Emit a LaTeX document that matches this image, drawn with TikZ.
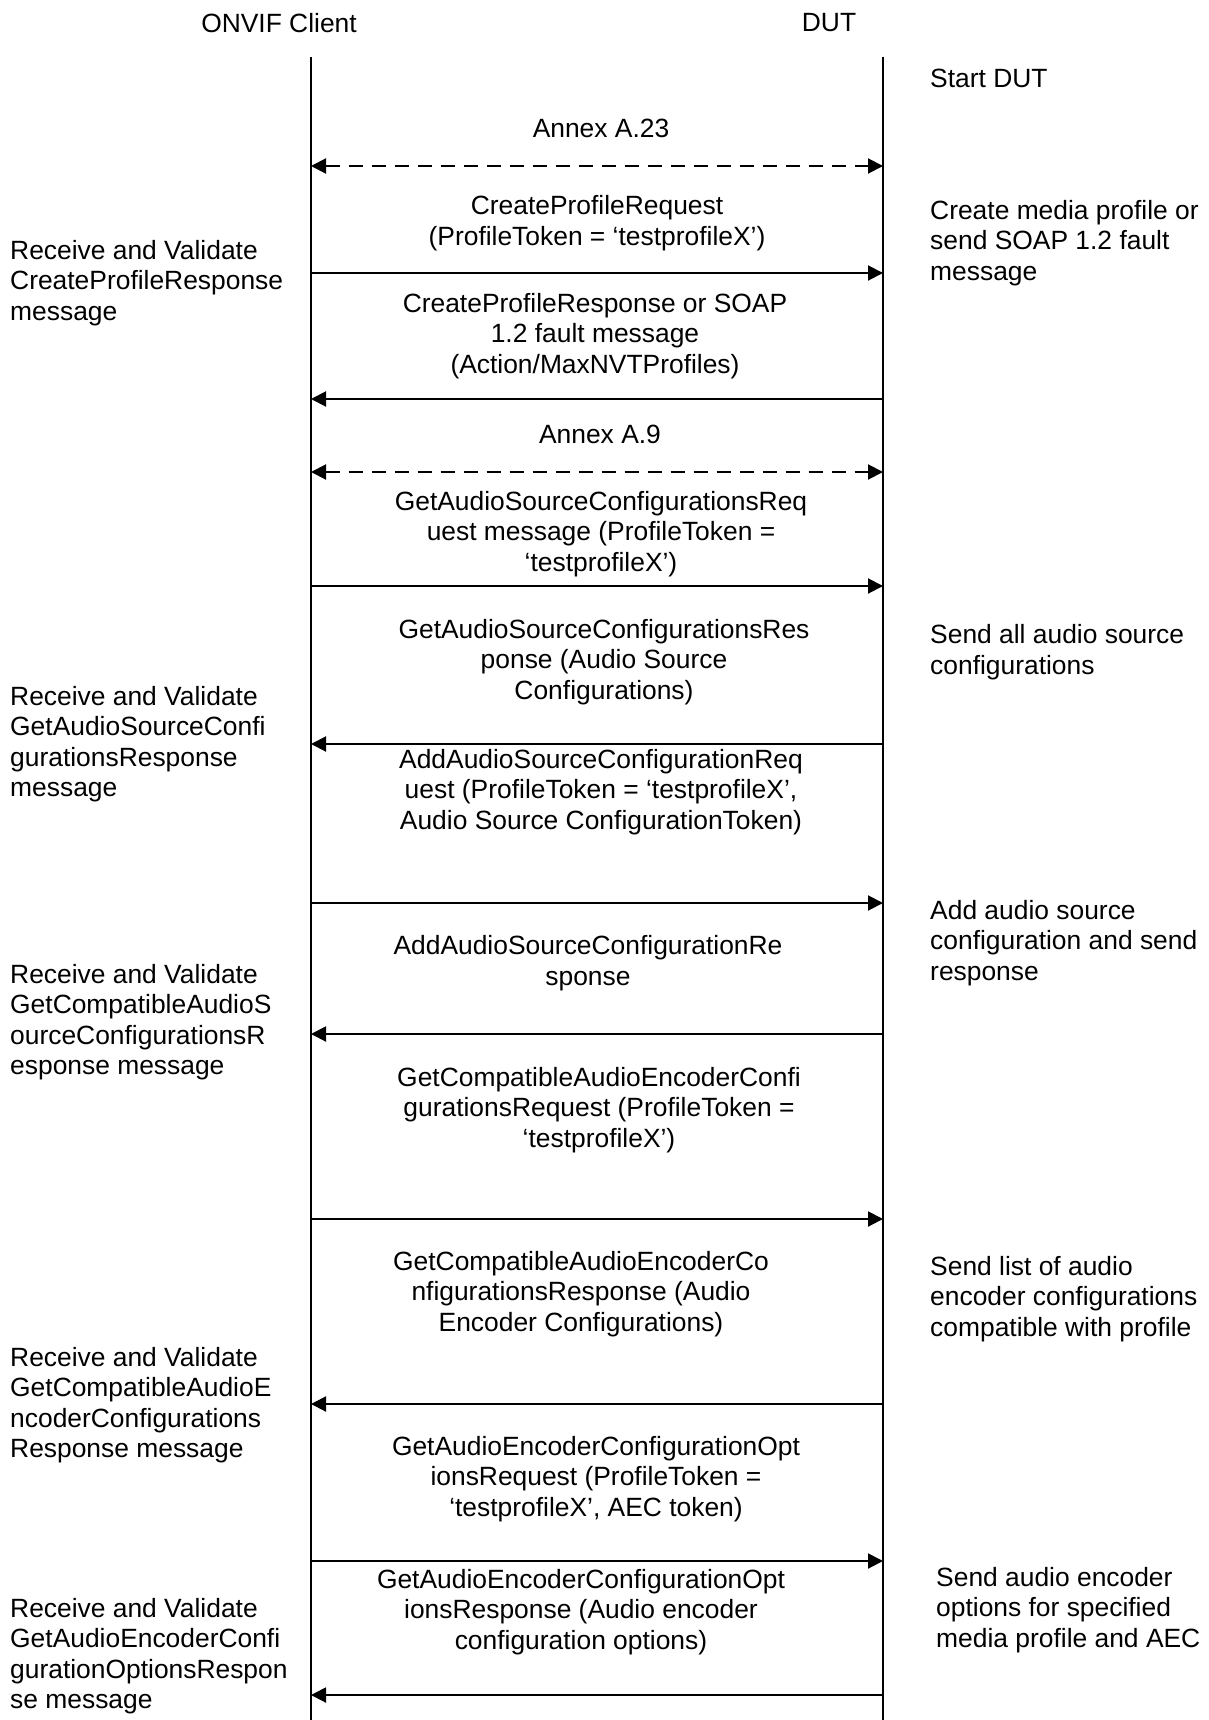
\documentclass[tikz,border=0pt]{standalone}
\usepackage{fontspec}
\setmainfont{Liberation Sans}
\usetikzlibrary{arrows.meta}
\begin{document}
\begin{tikzpicture}[x=1pt,y=-1pt,
  txt/.style={inner sep=0pt,font=\fontsize{26.4}{30.5}\selectfont},
  msg/.style={txt,align=center},
  lnote/.style={txt,align=left,anchor=west},
  rnote/.style={txt,align=left,anchor=west},
  life/.style={line width=1.5pt},
  call/.style={line width=2pt,-{Triangle[length=15pt,width=15pt]}},
  annex/.style={line width=2pt,dash pattern=on 14pt off 9pt,{Triangle[length=15pt,width=15pt]}-{Triangle[length=15pt,width=15pt]}}]
\useasboundingbox (0,0) rectangle (1209,1720);
\fill[white] (0,0) rectangle (1209,1720);
% headers
\node[txt] (hc) at (279,23) {ONVIF Client};
\node[txt] (hd) at (829,23) {DUT};
% lifelines
\coordinate (ct) at (311,57); \coordinate (cb) at (311,1720);
\coordinate (dt) at (883,57); \coordinate (db) at (883,1720);
\draw[life] (ct) -- (cb);
\draw[life] (dt) -- (db);
% arrow end points
\foreach \n/\y in {1/166,2/273,3/399,4/472,5/586,6/744,7/903,8/1034,9/1219,10/1404,11/1561,12/1695}{
  \coordinate (c\n) at (311,\y);
  \coordinate (d\n) at (883,\y);
}
% messages
\node[msg] (m1) at (601,128) {Annex A.23};
\draw[annex] (c1) -- (d1);
\node[msg] (m2) at (597,223) {CreateProfileRequest\\(ProfileToken = ‘testprofileX’)};
\draw[call] (c2) -- (d2);
\node[msg] (m3) at (595,336) {CreateProfileResponse or SOAP\\1.2 fault message\\(Action/MaxNVTProfiles)};
\draw[call] (d3) -- (c3);
\node[msg] (m4) at (600,434) {Annex A.9};
\draw[annex] (c4) -- (d4);
\node[msg] (m5) at (601,534) {GetAudioSourceConfigurationsReq\\uest message (ProfileToken =\\‘testprofileX’)};
\draw[call] (c5) -- (d5);
\node[msg] (m6) at (604,662) {GetAudioSourceConfigurationsRes\\ponse (Audio Source\\Configurations)};
\draw[call] (d6) -- (c6);
\node[msg] (m7) at (601,792) {AddAudioSourceConfigurationReq\\uest (ProfileToken = ‘testprofileX’,\\Audio Source ConfigurationToken)};
\draw[call] (c7) -- (d7);
\node[msg] (m8) at (588,963) {AddAudioSourceConfigurationRe\\sponse};
\draw[call] (d8) -- (c8);
\node[msg] (m9) at (599,1110) {GetCompatibleAudioEncoderConfi\\gurationsRequest (ProfileToken =\\‘testprofileX’)};
\draw[call] (c9) -- (d9);
\node[msg] (m10) at (581,1294) {GetCompatibleAudioEncoderCo\\nfigurationsResponse (Audio\\Encoder Configurations)};
\draw[call] (d10) -- (c10);
\node[msg] (m11) at (596,1479) {GetAudioEncoderConfigurationOpt\\ionsRequest (ProfileToken =\\‘testprofileX’, AEC token)};
\draw[call] (c11) -- (d11);
\node[msg] (m12) at (581,1612) {GetAudioEncoderConfigurationOpt\\ionsResponse (Audio encoder\\configuration options)};
\draw[call] (d12) -- (c12);
% left notes
\node[lnote] (l1) at (10,283) {Receive and Validate\\CreateProfileResponse\\message};
\node[lnote] (l2) at (10,744) {Receive and Validate\\GetAudioSourceConfi\\gurationsResponse\\message};
\node[lnote] (l3) at (10,1022) {Receive and Validate\\GetCompatibleAudioS\\ourceConfigurationsR\\esponse message};
\node[lnote] (l4) at (10,1405) {Receive and Validate\\GetCompatibleAudioE\\ncoderConfigurations\\Response message};
\node[lnote] (l5) at (10,1656) {Receive and Validate\\GetAudioEncoderConfi\\gurationOptionsRespon\\se message};
% right notes
\node[rnote] (r1) at (930,78) {Start DUT};
\node[rnote] (r2) at (930,243) {Create media profile or\\send SOAP 1.2 fault\\message};
\node[rnote] (r3) at (930,652) {Send all audio source\\configurations};
\node[rnote] (r4) at (930,943) {Add audio source\\configuration and send\\response};
\node[rnote] (r5) at (930,1299) {Send list of audio\\encoder configurations\\compatible with profile};
\node[rnote] (r6) at (936,1610) {Send audio encoder\\options for specified\\media profile and AEC};
\end{tikzpicture}
\end{document}
